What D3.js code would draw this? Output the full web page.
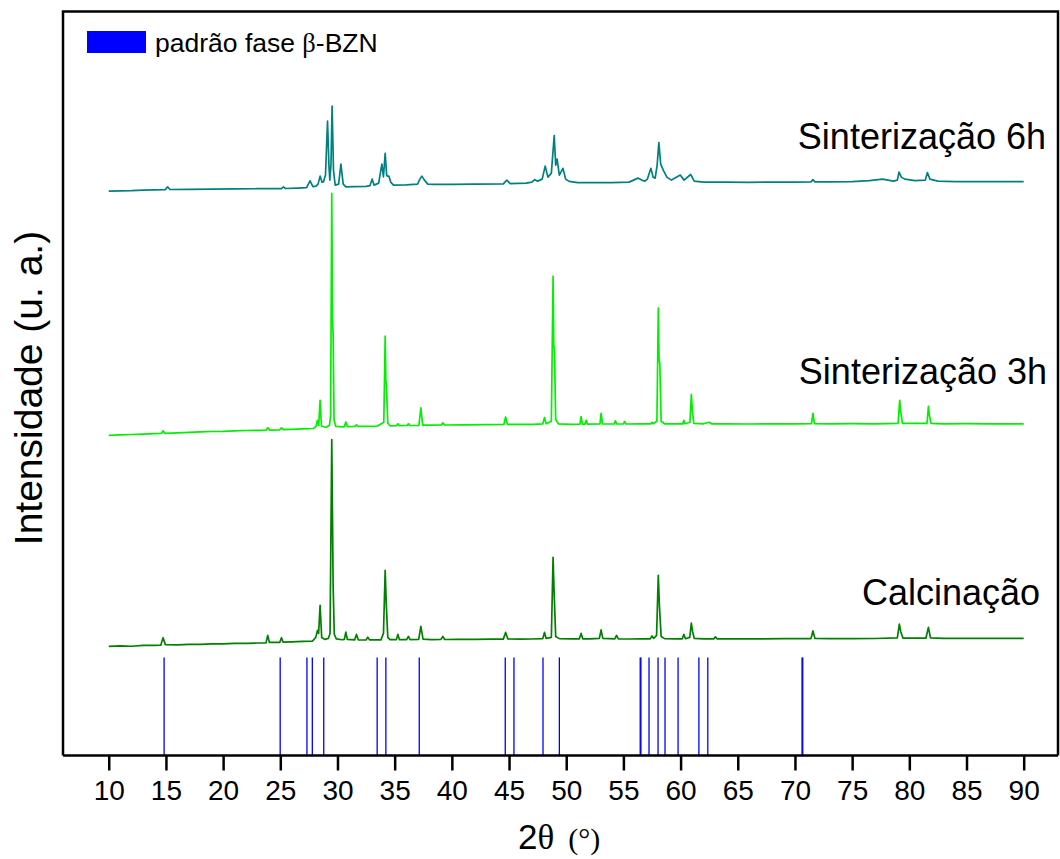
<!DOCTYPE html>
<html lang="pt">
<head>
    <meta charset="UTF-8">
    <title>DRX - fase beta-BZN</title>
    <script src="https://d3js.org/d3.v7.min.js"></script>
    <style>
        body { margin: 0; background: #fff; }
        svg { display: block; }
        text { font-family: "Liberation Sans", Arial, Helvetica, sans-serif; fill: #000; }
        .serif { font-family: "Liberation Serif", "Times New Roman", serif; }
        .curve { fill: none; stroke-width: 1.7; stroke-linejoin: round; }
        .ref { stroke: #0000ff; stroke-width: 1.3; }
    </style>
</head>
<body>
<svg id="chart" width="1060" height="859"></svg>

<script>
    // intensities are arbitrary units, already shifted for the stacked view
    const calcinacao = [
        [10,109],[11,109.5],[12,109.2],[13,110],[14,110],[14.55,110.2],[14.75,117.7],[14.95,110.8],[16,110.5],[17,111],
        [18,111],[19,111.5],[20,111.5],[21,112],[22,112],[23,112.4],[23.75,112.6],[23.9,120],[24.05,113],[24.95,113],
        [25.1,117.7],[25.25,113.2],[26,113.5],[27,114],[27.8,114.2],[28.1,118],[28.25,125],[28.35,122],[28.48,150],[28.62,118],
        [28.9,116],[29.2,117],[29.35,122],[29.5,315.7],[29.62,170],[29.72,121],[29.9,116.5],[30.4,115.7],[30.6,116],[30.73,123.3],
        [30.86,116],[31.5,115.5],[31.66,121],[31.82,115.6],[32.5,115.4],[32.65,118.3],[32.8,115.5],[33.8,115.5],[34.02,122],[34.17,185],
        [34.27,150],[34.4,118],[34.6,115.8],[35.15,115.8],[35.28,121],[35.42,115.7],[36.05,115.8],[36.2,119],[36.35,115.8],[37.1,116],
        [37.29,129],[37.48,116.2],[38.2,115.8],[39.05,116],[39.21,119],[39.37,115.9],[40.5,116],[42,116],[43.5,116.2],[44.5,116.3],
        [44.7,123],[44.9,116.5],[46,116.3],[47,116.4],[47.95,116.8],[48.1,123],[48.25,117],[48.7,118],[48.85,198],[48.95,160],
        [49.08,119],[49.4,116.8],[50.5,116.5],[51.15,116.6],[51.3,122],[51.45,116.6],[52.1,116.5],[52.9,117],[53.05,125.5],[53.2,117],
        [54.25,116.5],[54.4,120],[54.55,116.5],[55.5,116.4],[56.5,116.5],[57.35,116.6],[57.5,119.5],[57.65,117],[57.9,120],[58.05,180],
        [58.15,149.5],[58.3,119],[58.6,116.8],[59.5,116.5],[60.15,116.6],[60.28,121],[60.42,116.7],[60.8,118],[60.94,132.3],[61.05,123.7],
        [61.2,117],[62,116.5],[62.9,116.6],[63.05,118.5],[63.2,116.5],[65,116.6],[67,116.5],[69,116.7],[71.4,116.8],[71.57,124.5],
        [71.75,117],[73,116.7],[75,116.8],[77,116.9],[78.95,117.5],[79.13,131.3],[79.25,123.7],[79.45,117.2],[81.45,117.2],[81.67,128],
        [81.85,117.5],[83,117],[85,117],[87,117],[90,117]
    ];

    const sinterizacao3h = [
        [10,320],[11,320.4],[12,320.8],[13,321.2],[14,321.6],[14.6,321.8],[14.75,324.5],[14.9,322],[16,322.5],[17,323],
        [18,323.4],[19,323.8],[20,324],[21,324.5],[22,324.8],[23,325],[23.75,325.1],[23.9,327.5],[24.05,325.2],[24.95,325.5],
        [25.1,327.5],[25.25,325.6],[26,326],[27,326.5],[27.9,326.8],[28.12,329],[28.25,335],[28.36,330],[28.48,355],[28.6,329],
        [29,328],[29.3,330],[29.4,340],[29.5,561.7],[29.56,440],[29.62,420],[29.7,335],[29.85,329],[30.5,328.5],[30.6,328.6],
        [30.73,333.3],[30.86,328.7],[31.5,328.8],[31.66,330.5],[31.8,329],[32.6,329],[33.5,329.2],[34.05,333],[34.17,419],[34.23,375],
        [34.28,370],[34.4,332],[34.6,329.5],[35.15,329.6],[35.28,331.5],[35.4,329.6],[36.1,329.8],[36.2,331.5],[36.3,329.8],[37.12,330],
        [37.29,347.3],[37.45,330.2],[38.2,330.2],[39.1,330.3],[39.21,332.5],[39.35,330.3],[41,330.5],[43,330.7],[44.55,330.8],[44.7,338.3],
        [44.85,331],[46,331],[47.1,331],[47.95,331.5],[48.1,337.7],[48.25,331.5],[48.7,334],[48.85,479],[48.91,410],[48.97,406],
        [49.08,336],[49.3,331.5],[50.5,331],[51.2,331.2],[51.3,338.6],[51.42,331.2],[51.65,331.2],[51.75,335],[51.85,331.2],[52.95,331.3],
        [53.05,342],[53.17,331.3],[54.2,331.3],[54.3,334.4],[54.42,331.3],[55,331.3],[55.1,333.8],[55.22,331.3],[56.5,331.4],[57.4,331.4],
        [57.5,333],[57.6,331.5],[57.93,334],[58.05,447],[58.12,395],[58.18,392],[58.3,334],[58.6,331.5],[59.5,331.5],[60.2,331.5],
        [60.28,335],[60.38,331.5],[60.82,333],[60.94,361],[61.03,344.8],[61.15,332],[62,331.5],[62.5,333],[62.7,331.5],[64,331.5],
        [66,331.3],[68,331.5],[70,331.4],[71.45,331.6],[71.57,342],[71.7,331.6],[73,331.5],[75,331.6],[77,331.5],[79.02,332],
        [79.16,355],[79.25,343],[79.4,332],[81.55,332],[81.67,349],[81.76,339.6],[81.9,332],[83,331.5],[85,331.6],[87,331.5],
        [90,331.5]
    ];

    const sinterizacao6h = [
        [10,564],[11,564.3],[12,564.5],[13,565],[14,565.2],[14.95,565.5],[15.15,568.3],[15.35,565.6],[17,565.8],[19,566],
        [21,566.2],[23,566.4],[25.1,566.5],[25.27,568.3],[25.45,566.6],[26.5,567],[27.3,567.5],[27.6,574.3],[27.85,568.5],[28.13,569],
        [28.3,571],[28.48,579],[28.65,573],[28.78,573.3],[28.95,580],[29.13,634],[29.25,590],[29.33,575],[29.43,590],[29.53,649],
        [29.65,585],[29.8,570],[30.1,571],[30.3,591],[30.5,571],[30.73,568.3],[31.5,568.5],[32.5,568.8],[32.85,569.5],[33.03,576],
        [33.2,570],[33.6,572],[33.88,591],[34.02,578.3],[34.17,601.7],[34.3,580],[34.37,579],[34.49,579],[34.65,573],[34.9,570],
        [36,570.2],[37,571],[37.2,576],[37.38,579],[37.6,575],[37.9,571],[38.4,570.7],[40,570.8],[42,571],[44.5,571.2],
        [44.81,575],[45.1,571.5],[46.5,572],[47,573],[47.24,575.4],[47.5,574],[47.9,576],[48.16,589],[48.4,578],[48.7,582],
        [48.95,619.5],[49.08,590],[49.2,596],[49.4,580],[49.71,586.8],[49.95,576],[50.25,573.7],[51,572.5],[52.5,572.5],[54,572.5],
        [55.5,573],[56.27,577],[56.6,575],[56.88,574],[57.1,576],[57.4,586.8],[57.6,578],[57.78,577],[57.95,590],[58.1,612.6],
        [58.26,591],[58.53,584],[58.8,578],[59.2,575],[59.97,580],[60.3,575],[60.88,580.6],[61.2,574],[62,573],[64,573],
        [66,572.8],[68,573],[70,573],[71.4,573.2],[71.57,575.5],[71.75,573.2],[73,573.3],[75,573.5],[76.5,574.5],[77.66,576],
        [78.6,574],[78.95,575],[79.1,583],[79.3,578],[79.6,576],[80.5,574.5],[81.4,575],[81.58,582.6],[81.8,576],[82.5,574],
        [84,573.5],[86,573.5],[88,573.5],[90,573.5]
    ];

    // standard beta-BZN reflections (2theta) and the height of the sticks
    const padraoBZN = [14.84, 24.99, 27.33, 27.8, 28.8, 33.47, 34.23, 37.15, 44.67, 45.43, 47.97, 49.4,
                       56.47, 56.53, 57.24, 58.03, 58.64, 59.78, 61.6, 62.38, 70.62, 70.68];
    const padraoAltura = 98;

    const seriesNames = ["Sinterização 6h", "Sinterização 3h", "Calcinação"];
    const seriesColors = ["#008080", "#00f000", "#008000"];
    const xTicks = [10, 15, 20, 25, 30, 35, 40, 45, 50, 55, 60, 65, 70, 75, 80, 85, 90];

    const svg = d3.select("#chart");
    const frame = { left: 63, right: 1058, top: 11.5, bottom: 755.5 };

    const x = d3.scaleLinear().domain([6, 93]).range([frame.left, frame.right]);
    const y = d3.scaleLinear().domain([0, 745]).range([frame.bottom, frame.top - 1.5]);

    const line = d3.line().x(d => x(d[0])).y(d => y(d[1]));

    // reference sticks
    svg.append("g").selectAll("line")
        .data(padraoBZN)
        .join("line")
        .attr("class", "ref")
        .attr("x1", d => x(d)).attr("x2", d => x(d))
        .attr("y1", y(0)).attr("y2", y(padraoAltura));

    // diffractograms
    const allSeries = [sinterizacao6h, sinterizacao3h, calcinacao];
    svg.append("g").selectAll("path")
        .data(allSeries)
        .join("path")
        .attr("class", "curve")
        .attr("stroke", (d, i) => seriesColors[i])
        .attr("d", line);

    // frame
    svg.append("path")
        .attr("d", `M${frame.left},${frame.bottom}V${frame.top}H${frame.right}V${frame.bottom}`)
        .attr("fill", "none").attr("stroke", "#000").attr("stroke-width", 2.5);

    // x axis with outer ticks
    const xAxis = d3.axisBottom(x).tickValues(xTicks).tickSize(15).tickPadding(10).tickSizeOuter(0);
    const gx = svg.append("g").attr("transform", `translate(0,${frame.bottom})`).call(xAxis);
    gx.select(".domain").attr("stroke", "#000").attr("stroke-width", 2.5)
        .attr("d", `M${frame.left},0H${frame.right}`);
    gx.selectAll(".tick line").attr("stroke", "#000").attr("stroke-width", 2.5);
    gx.selectAll(".tick text")
        .attr("font-family", "Liberation Sans, Arial, sans-serif")
        .attr("font-size", 28).attr("fill", "#000");

    // series labels
    const labelPos = [[1046, 149], [1047, 384], [1040, 605]];
    svg.append("g").selectAll("text")
        .data(seriesNames)
        .join("text")
        .attr("x", (d, i) => labelPos[i][0])
        .attr("y", (d, i) => labelPos[i][1])
        .attr("text-anchor", "end")
        .attr("font-size", 36)
        .text(d => d);

    // legend
    svg.append("rect").attr("x", 87).attr("y", 31).attr("width", 59).attr("height", 22).attr("fill", "#0000ff");
    const leg = svg.append("text").attr("x", 155).attr("y", 52).attr("font-size", 26.5);
    leg.append("tspan").text("padrão fase ");
    leg.append("tspan").attr("class", "serif").text("β");
    leg.append("tspan").text("-BZN");

    // axis titles
    const xt = svg.append("text").attr("x", 518).attr("y", 849);
    xt.append("tspan").attr("font-size", 35).text("2");
    xt.append("tspan").attr("class", "serif").attr("font-size", 35).text("θ");
    xt.append("tspan").attr("class", "serif").attr("font-size", 30).attr("dx", 14).text("(°)");

    svg.append("text")
        .attr("transform", "translate(42,388) rotate(-90)")
        .attr("text-anchor", "middle")
        .attr("font-size", 39)
        .text("Intensidade (u. a.)");
</script>
</body>
</html>
